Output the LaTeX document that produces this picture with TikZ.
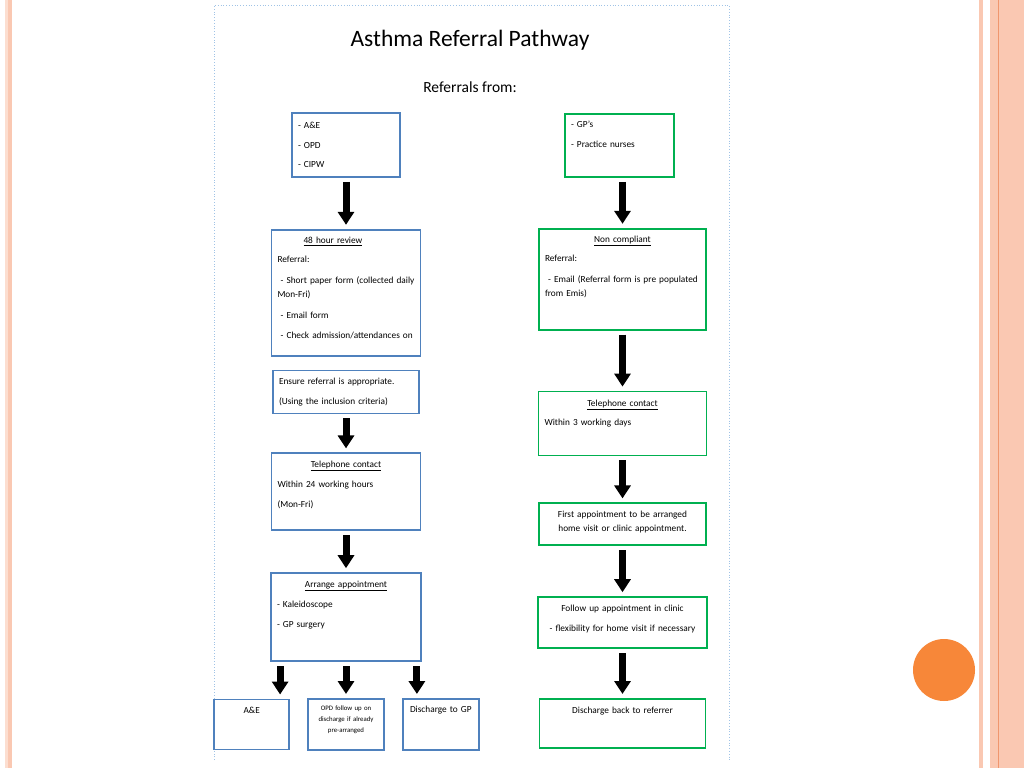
\documentclass[tikz,border=0pt]{standalone}
\usepackage{fontspec}
\setmainfont{Carlito}
\usetikzlibrary{arrows.meta,positioning}
\definecolor{refblue}{RGB}{79,129,189}
\definecolor{refgreen}{RGB}{0,176,80}
\definecolor{stripepeach}{RGB}{250,200,178}
\definecolor{stripelight}{RGB}{252,222,208}
\definecolor{stripeline}{RGB}{240,150,110}
\definecolor{pageblue}{RGB}{160,195,230}
\definecolor{dotorange}{RGB}{247,135,57}
\tikzset{
 blubox/.style={rectangle,draw=refblue,line width=1.8pt,inner xsep=6pt,inner ysep=0pt,align=left,font=\fontsize{9.3}{14}\selectfont},
 grnbox/.style={blubox,draw=refgreen},
 blockarrow/.style={-{Triangle[length=13pt,width=16pt]},line width=7pt,draw=black,shorten <=4pt,shorten >=4pt}}

\begin{document}
\begin{tikzpicture}[x=1pt,y=-1pt]
\useasboundingbox (0,0) rectangle (1024,768);
% slide frame
\fill[white] (0,0) rectangle (1024,768);
\fill[stripelight] (5,0) rectangle (8,768);
\fill[stripepeach] (8,0) rectangle (12,768);
\fill[stripepeach] (979,0) rectangle (983,768);
\fill[stripepeach] (990,0) rectangle (1024,768);
\draw[stripeline,line width=0.8pt] (998,0) -- (998,768);
\fill[dotorange] (944,670) circle (31);
\draw[pageblue,dotted,line width=0.8pt] (214,760) -- (214,5) -- (729,5) -- (729,760);
% headings
\node[font=\fontsize{23.5}{26}\selectfont,anchor=base] (title) at (470,46) {Asthma Referral Pathway};
\node[font=\fontsize{15.5}{18}\selectfont,anchor=base] (from) at (470,92) {Referrals from:};
% hospital side
\node[blubox,anchor=north,text width=96pt,text height=16pt,text depth=48pt] (hosp) at (346,112) {- A\&E\\[5.5pt] - OPD\\[5.5pt] - CIPW};
\node[blubox,below=51pt of hosp,text width=137pt,text height=14pt,text depth=112pt] (review) {\hspace*{26pt}\underline{48 hour review}\\[5pt] Referral:\\[7pt] \ - Short paper form (collected daily\\ Mon-Fri)\\[7pt] \ - Email form\\[6pt] \ - Check admission/attendances on};
\node[blubox,below=13pt of review,text width=134pt,text height=14pt,text depth=29pt] (ensure) {Ensure referral is appropriate.\\[6pt] (Using the inclusion criteria)};
\node[blubox,below=38pt of ensure,text width=137pt,text height=14pt,text depth=63pt] (phoneL) {\makebox[\linewidth]{\underline{Telephone contact}}\\[6pt] Within 24 working hours\\[6pt] (Mon-Fri)};
\node[blubox,below=41pt of phoneL,text width=138pt,text height=14pt,text depth=74pt] (appt) {\makebox[\linewidth]{\underline{Arrange appointment}}\\[6pt] - Kaleidoscope\\[6pt] - GP surgery};
\node[blubox,align=center,below=36pt of appt,text width=64pt,text height=12pt,text depth=39pt,font=\fontsize{6.8}{11}\selectfont] (opd) {OPD follow up on\\ discharge if already\\ pre-arranged};
\node[blubox,align=center,left=17pt of opd,text width=63pt,text height=14pt,text depth=36pt] (ae) {A\&E};
\node[blubox,align=center,right=17pt of opd,text width=64pt,text height=14pt,text depth=37pt] (dischgp) {Discharge to GP};
% GP side
\node[grnbox,anchor=north,text width=97pt,text height=14pt,text depth=49pt] (gps) at (619.5,113) {- GP's\\[6pt] - Practice nurses};
\node[grnbox,below=50pt of gps,xshift=3pt,text width=155pt,text height=14pt,text depth=87pt] (noncomp) {\makebox[\linewidth]{\underline{Non compliant}}\\[5pt] Referral:\\[7pt] \ - Email (Referral form is pre populated\\ from Emis)};
\node[grnbox,below=60pt of noncomp,text width=156pt,text height=15pt,text depth=49pt] (phoneR) {\makebox[\linewidth]{\underline{Telephone contact}}\\[5pt] Within 3 working days};
\node[grnbox,align=center,below=46pt of phoneR,text width=155pt,text height=14pt,text depth=28pt] (first) {First appointment to be arranged\\ home visit or clinic appointment.};
\node[grnbox,align=center,below=50pt of first,text width=157pt,text height=14pt,text depth=37pt] (follow) {Follow up appointment in clinic\\[6pt] - flexibility for home visit if necessary};
\node[grnbox,align=center,below=49pt of follow,text width=154pt,text height=15pt,text depth=34pt] (discharge) {Discharge back to referrer};
% arrows
\draw[blockarrow] (hosp) -- (review);
\draw[blockarrow] (ensure) -- (phoneL);
\draw[blockarrow] (phoneL) -- (appt);
\draw[blockarrow] ([xshift=10pt]appt.south west) -- ([xshift=-10pt]ae.north east);
\draw[blockarrow] (appt) -- (opd);
\draw[blockarrow] ([xshift=-5pt]appt.south east) -- ([xshift=15pt]dischgp.north west);
\draw[blockarrow] (noncomp.north |- gps.south) -- (noncomp.north);
\draw[blockarrow] (noncomp) -- (phoneR);
\draw[blockarrow] (phoneR) -- (first);
\draw[blockarrow] (first) -- (follow);
\draw[blockarrow] (follow) -- (discharge);
\end{tikzpicture}
\end{document}
